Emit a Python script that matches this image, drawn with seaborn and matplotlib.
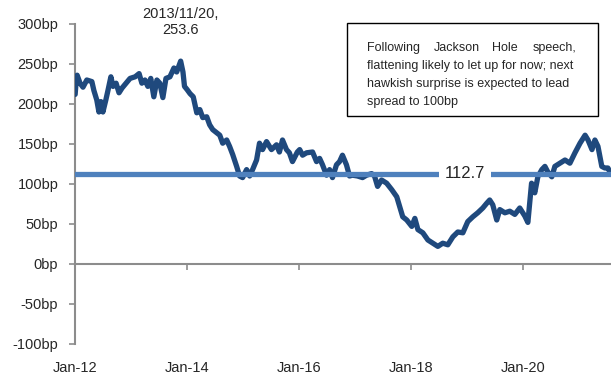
import pandas as pd
import matplotlib
matplotlib.use("Agg")
from matplotlib import pyplot as plt
from matplotlib.patches import Rectangle
import matplotlib.dates as mdates
import seaborn as sns

# spread readings (bp)
dates = [
    "2012-01-02", "2012-01-10", "2012-01-15", "2012-02-03", "2012-02-22", "2012-03-18",
    "2012-04-20", "2012-05-03", "2012-05-22", "2012-06-05", "2012-06-18", "2012-07-01",
    "2012-07-20", "2012-08-03", "2012-08-22", "2012-09-05", "2012-09-25", "2012-10-14",
    "2012-11-03", "2012-11-29", "2012-12-25", "2013-01-27", "2013-02-22", "2013-03-12",
    "2013-04-01", "2013-04-20", "2013-05-09", "2013-05-29", "2013-06-18", "2013-07-07",
    "2013-07-27", "2013-08-16", "2013-09-11", "2013-10-07", "2013-10-25", "2013-11-20",
    "2013-12-05", "2013-12-15", "2014-01-01", "2014-01-20", "2014-02-10", "2014-03-05",
    "2014-03-25", "2014-04-13", "2014-05-09", "2014-05-28", "2014-06-17", "2014-07-13",
    "2014-08-02", "2014-08-21", "2014-09-16", "2014-10-05", "2014-10-25", "2014-11-20",
    "2014-12-09", "2014-12-29", "2015-01-24", "2015-02-13", "2015-03-04", "2015-03-30",
    "2015-04-18", "2015-05-08", "2015-06-03", "2015-07-05", "2015-08-07", "2015-08-26",
    "2015-09-15", "2015-10-11", "2015-10-30", "2015-11-19", "2015-12-21", "2016-01-05",
    "2016-01-24", "2016-02-19", "2016-03-29", "2016-04-24", "2016-05-14", "2016-06-02",
    "2016-06-28", "2016-07-18", "2016-08-06", "2016-09-01", "2016-09-21", "2016-10-10",
    "2016-11-05", "2016-11-25", "2016-12-14", "2017-01-16", "2017-02-18", "2017-03-16",
    "2017-04-18", "2017-05-07", "2017-05-27", "2017-06-22", "2017-07-25", "2017-08-27",
    "2017-09-29", "2017-10-18", "2017-11-07", "2017-12-03", "2018-01-05", "2018-01-25",
    "2018-02-14", "2018-03-18", "2018-04-20", "2018-05-22", "2018-06-24", "2018-07-26",
    "2018-08-28", "2018-09-30", "2018-11-01", "2018-12-04", "2019-01-05", "2019-02-07",
    "2019-03-11", "2019-04-13", "2019-05-09", "2019-05-28", "2019-06-17", "2019-07-13",
    "2019-08-02", "2019-09-04", "2019-10-06", "2019-11-08", "2019-12-10", "2020-01-12",
    "2020-02-01", "2020-02-25", "2020-03-17", "2020-04-06", "2020-05-02", "2020-05-22",
    "2020-06-10", "2020-07-06", "2020-07-26", "2020-08-28", "2020-09-30", "2020-11-01",
    "2020-12-04", "2021-01-06", "2021-02-08", "2021-02-27", "2021-03-25", "2021-04-13",
    "2021-05-03", "2021-05-28", "2021-06-17", "2021-07-07", "2021-07-27",
]
spread = [
    212, 232, 236, 226, 221, 230,
    228, 217, 205, 190, 203, 190,
    205, 217, 234, 222, 226, 214,
    220, 226, 232, 234, 238, 226,
    230, 222, 232, 209, 230, 226,
    208, 232, 234, 245, 240, 253.6,
    240, 222, 218, 213, 209, 189,
    193, 183, 184, 174, 168, 164,
    161, 151, 155, 147, 137, 122,
    110, 108, 118, 110, 118, 130,
    151, 143, 153, 143, 149, 140,
    155, 143, 139, 128, 140, 143,
    136, 139, 140, 128, 132, 124,
    111, 118, 108, 124, 128, 136,
    124, 110, 111, 110, 108, 111,
    113, 110, 97, 105, 101, 93,
    84, 72, 59, 55, 47, 57,
    43, 39, 30, 26, 22, 26,
    24, 34, 40, 39, 53, 59,
    64, 70, 76, 80, 74, 55,
    68, 64, 66, 62, 70, 60,
    52, 101, 89, 109, 118, 122,
    115, 109, 122, 126, 130, 126,
    139, 151, 161, 155, 143, 155,
    147, 122, 120, 120, 112,
]
average = 112.7
peak_date = "2013-11-20"
peak_value = 253.6
y_ticks = [-100, -50, 0, 50, 100, 150, 200, 250, 300]
x_ticks = ["2012-01-01", "2014-01-01", "2016-01-01", "2018-01-01", "2020-01-01"]
note_first = ["Following", "Jackson", "Hole", "speech,"]
note_rest = ["flattening likely to let up for now; next",
             "hawkish surprise is expected to lead",
             "spread to 100bp"]

df = pd.DataFrame({"date": pd.to_datetime(dates), "spread": spread})

sns.set_style("white")
plt.rcParams["font.family"] = ["Liberation Sans", "DejaVu Sans"]

fig = plt.figure(figsize=(6.11, 3.81), dpi=100)
ax = fig.add_axes([75 / 611, 37 / 381, 536 / 611, 320 / 381])

sns.lineplot(data=df, x="date", y="spread", ax=ax, color="#1F497D", linewidth=3.8, zorder=2)
ax.axhline(average, color="#4F81BD", linewidth=3.8, zorder=3)
ax.text(pd.Timestamp("2018-12-17"), average, f"{average}", ha="center", va="center",
        fontsize=12, zorder=5,
        bbox=dict(boxstyle="square,pad=0.35", fc="white", ec="none"))

ax.text(pd.Timestamp(peak_date), 302, f"{peak_date.replace('-', '/')},\n{peak_value}",
        ha="center", va="center", fontsize=10.5, linespacing=1.2, clip_on=False)

# note box; first line justified word by word, one baseline per line
ax.add_patch(Rectangle((0.5075, 0.7125), 0.4685, 0.2905, transform=ax.transAxes,
                       fill=False, ec="black", lw=1.0, clip_on=False, zorder=6))
baselines = [0.9156, 0.8594, 0.8031, 0.7469]
word_x = [0.5445, 0.6700, 0.7780, 0.9360]
word_ha = ["left", "left", "left", "right"]
for w, wx, ha in zip(note_first, word_x, word_ha):
    ax.text(wx, baselines[0], w, transform=ax.transAxes, ha=ha, va="baseline",
            fontsize=9, zorder=6)
for line, by in zip(note_rest, baselines[1:]):
    ax.text(0.5445, by, line, transform=ax.transAxes, ha="left", va="baseline",
            fontsize=9, zorder=6)

ax.set_xlim(pd.Timestamp("2012-01-01"), pd.Timestamp("2021-07-27"))
ax.set_ylim(-100, 300)
ax.set_yticks(y_ticks)
ax.set_yticklabels([f"{v}bp" for v in y_ticks])
ax.set_xticks(pd.to_datetime(x_ticks))
ax.xaxis.set_major_formatter(mdates.DateFormatter("%b-%y"))
ax.set_xlabel("")
ax.set_ylabel("")

for s in ["top", "right"]:
    ax.spines[s].set_visible(False)
ax.spines["bottom"].set_position(("data", 0))
for s in ["left", "bottom"]:
    ax.spines[s].set_color("#8C8C8C")
    ax.spines[s].set_linewidth(1.5)
    ax.spines[s].set_zorder(1)
ax.tick_params(axis="y", direction="out", length=4, width=1.2, color="#8C8C8C",
               pad=8, labelsize=10.5, left=True)
ax.tick_params(axis="x", direction="out", length=4, width=1.2, color="#8C8C8C",
               pad=66, labelsize=10.5, bottom=True)

fig.savefig("out.png", dpi=100)
